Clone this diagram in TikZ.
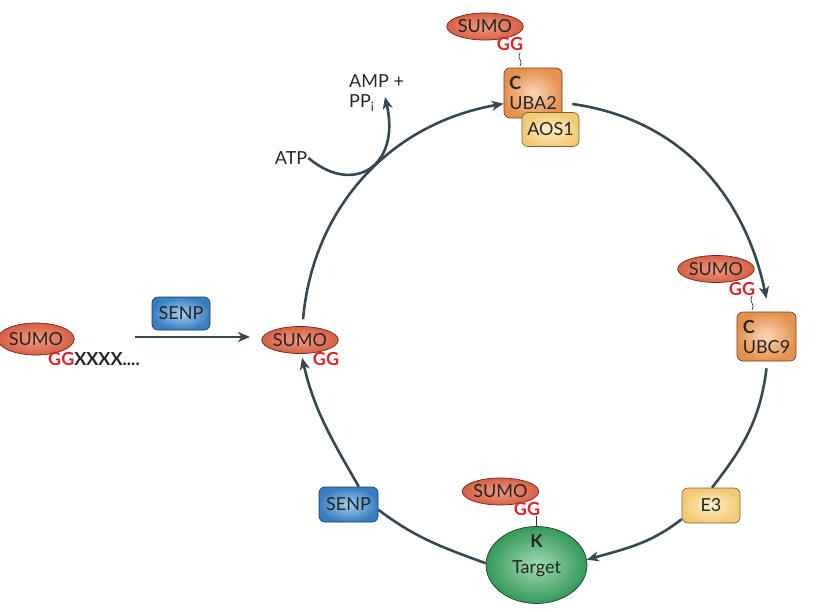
\documentclass[tikz,border=0pt]{standalone}
\usepackage{fontspec}
\setmainfont{Lato}
\usetikzlibrary{shapes.geometric,arrows.meta}
\definecolor{lc}{RGB}{55,72,82}
\definecolor{sumoOut}{RGB}{214,96,70}
\definecolor{sumoIn}{RGB}{240,155,128}
\definecolor{sumoDr}{RGB}{110,38,28}
\definecolor{ggred}{RGB}{218,37,42}
\definecolor{orOut}{RGB}{228,145,78}
\definecolor{orIn}{RGB}{248,215,182}
\definecolor{orDr}{RGB}{105,68,40}
\definecolor{yOut}{RGB}{243,202,115}
\definecolor{yIn}{RGB}{253,240,202}
\definecolor{yDr}{RGB}{125,98,50}
\definecolor{bOut}{RGB}{56,126,194}
\definecolor{bIn}{RGB}{165,205,240}
\definecolor{bDr}{RGB}{28,58,98}
\definecolor{gOut}{RGB}{52,152,92}
\definecolor{gIn}{RGB}{160,220,175}
\definecolor{gDr}{RGB}{28,68,44}
\newcommand{\fs}{\fontsize{18}{20}\selectfont}
\begin{document}
\begin{tikzpicture}[x=1pt,y=1pt,
  ln/.style={line width=2.6pt, draw=lc},
  arr/.style={ln, -{Stealth[length=12pt,width=10pt,inset=3.5pt]}},
  txt/.style={font=\fs, inner sep=1pt, text=black!85},
  sumo/.style={ellipse, draw=sumoDr, line width=0.7pt, inner color=sumoIn, outer color=sumoOut,
    minimum width=66pt, minimum height=27pt, inner sep=0pt, font=\fs, text=black!85},
  gg/.style={text=ggred, font=\fs\bfseries, inner sep=0pt},
  orbox/.style={rounded corners=6pt, draw=orDr, line width=0.7pt, inner color=orIn, outer color=orOut,
    font=\fs, align=left, inner sep=0pt, text=black!85},
  ybox/.style={rounded corners=6pt, draw=yDr, line width=0.7pt, inner color=yIn, outer color=yOut,
    font=\fs, inner sep=0pt, text=black!85},
  bbox/.style={rounded corners=6pt, draw=bDr, line width=0.7pt, inner color=bIn, outer color=bOut,
    font=\fs, inner sep=0pt, text=black!85},
  sq/.style={line width=0.7pt, draw=black!80}
]
\useasboundingbox (0,0) rectangle (817,-611);

% left precursor
\node[sumo, minimum height=32pt] (sumoL) at (36,-339) {SUMO};
\node[gg, anchor=west] (ggL) at (48,-359) {GG\textcolor{black!85}{XXXX....}};
\node[bbox, minimum width=58pt, minimum height=33pt] (senpL) at (181,-313.5) {SENP};
\coordinate (aS) at (135,-337);
\coordinate (aE) at (250,-337);
\draw[arr] (aS) -- (aE);

% mature SUMO
\node[sumo] (sumoM) at (300,-340) {SUMO};
\node[gg] (ggM) at (326,-359) {GG};

% E1
\node[orbox, minimum width=58pt, minimum height=50pt] (uba2) at (533,-93) {\textbf{C}\\UBA2};
\node[ybox, minimum width=57pt, minimum height=34pt] (aos1) at (550.5,-129.5) {AOS1};
\node[sumo] (sumoT) at (485,-26.5) {SUMO};
\node[gg] (ggT) at (510,-44) {GG};
\coordinate (q1) at (520,-53);
\coordinate (q2) at (520,-66);
\draw[sq] (q1) .. controls (516,-58) and (524,-61) .. (q2);

% ATP
\node[txt] (atp) at (291,-158) {ATP};
\node[txt, align=left, anchor=west] (amp) at (348,-93) {AMP +\\PP\textsubscript{i}};
\coordinate (ampE) at (385,-97);

% E2
\node[sumo] (sumoR) at (716,-269) {SUMO};
\node[gg] (ggR) at (742,-288.5) {GG};
\node[orbox, minimum width=59pt, minimum height=49pt] (ubc9) at (766.5,-336.5) {\textbf{C}\\UBC9};
\coordinate (r1) at (752,-296);
\coordinate (r2) at (752,-310);
\draw[sq] (r1) .. controls (748,-301) and (756,-305) .. (r2);

% E3
\node[ybox, minimum width=58pt, minimum height=35pt] (e3) at (711,-505.5) {E3};

% target
\node[ellipse, draw=gDr, line width=0.7pt, inner color=gIn, outer color=gOut,
  minimum width=101pt, minimum height=77pt] (target) at (536.5,-565) {};
\node[txt, anchor=base] (tK) at (536.5,-547) {\textbf{K}};
\node[txt, anchor=base] (tT) at (536.5,-573) {Target};
\node[sumo] (sumoB) at (500.5,-491.5) {SUMO};
\node[gg] (ggB) at (527,-508.5) {GG};
\draw[sq] (target.north) -- ++(0,10);

% SENP bottom
\node[bbox, minimum width=59pt, minimum height=35pt] (senpB) at (348.5,-504.5) {SENP};

% cycle
\draw[arr, shorten <=7pt] (sumoM.80) to[out=85, in=190] (uba2.200);
\draw[arr] ([shift={(10,-11)}]uba2.east) to[out=-8, in=102] ([yshift=13pt]ubc9.north);
\draw[ln] ([yshift=-7pt]ubc9.south) to[out=-97, in=52] ([xshift=1pt]e3.north);
\draw[arr] (e3.205) to[out=-142, in=16] (target.6);
\draw[ln] (target.178) to[out=160, in=-37] (senpB.-10);
\draw[arr, shorten >=4pt] (senpB.60) to[out=120, in=-77] (sumoM.-85);

% ATP curve
\draw[arr] (atp.east) .. controls +(-40:60) and +(-77:70) .. (ampE);
\end{tikzpicture}
\end{document}
